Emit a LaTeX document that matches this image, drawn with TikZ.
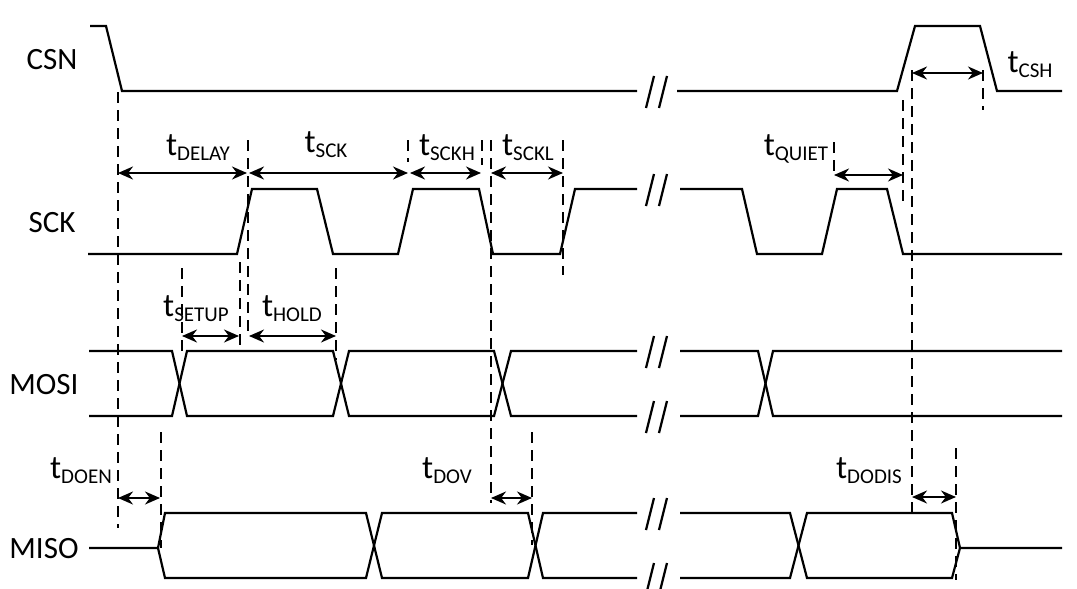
\documentclass[tikz,border=0pt]{standalone}
\usepackage{fontspec}
\setmainfont{Carlito}
\usetikzlibrary{arrows.meta}
\newcommand\brkmark[2]{\draw[sig] (#1-6,#2+17)--(#1+2,#2-15) (#1+7,#2+17)--(#1+15,#2-15);}
\begin{document}
\begin{tikzpicture}[x=1pt,y=-1pt,
  sig/.style={line width=2.2pt,line join=miter},
  dsh/.style={line width=2pt,dash pattern=on 11pt off 7pt},
  dim/.style={line width=2pt,{Stealth[length=15pt,width=13pt]}-{Stealth[length=15pt,width=13pt]}},
  lab/.style={font=\fontsize{31}{34}\selectfont,inner sep=0},
  tl/.style={font=\fontsize{33}{36}\selectfont,inner sep=0,anchor=base}]
\useasboundingbox (0,0) rectangle (1077,589);
% labels
\node[lab] (csn) at (52,60) {CSN};
\node[lab] (sck) at (52,223) {SCK};
\node[lab] (mosi) at (44,385) {MOSI};
\node[lab] (miso) at (44,549) {MISO};
% CSN
\draw[sig] (90,26)--(106,26)--(122,91)--(637,91);
\draw[sig] (677,91)--(897,91)--(915,26)--(980,26)--(997,91)--(1062,91);
\brkmark{652}{91}
% SCK
\draw[sig] (88,254)--(237,254)--(252,189)--(317,189)--(333,254)--(398,254)--(413,189)--(479,189)--(493,254)--(560,254)--(575,189)--(637,189);
\draw[sig] (680,189)--(742,189)--(757,254)--(822,254)--(837,189)--(887,189)--(903,254)--(1062,254);
\brkmark{652}{189}
% MOSI
\draw[sig] (89,351)--(172,351)--(187,416)--(333,416)--(349,351)--(494,351)--(511,416)--(637,416);
\draw[sig] (89,416)--(172,416)--(187,351)--(333,351)--(349,416)--(494,416)--(511,351)--(637,351);
\draw[sig] (680,351)--(758,351)--(773,416)--(1062,416);
\draw[sig] (680,416)--(758,416)--(773,351)--(1062,351);
\brkmark{652}{351}
\brkmark{652}{416}
% MISO
\draw[sig] (89,548)--(158,548)--(165,513)--(366,513)--(382,578)--(528,578)--(543,513)--(637,513);
\draw[sig] (158,548)--(165,578)--(366,578)--(382,513)--(528,513)--(543,578)--(637,578);
\draw[sig] (680,513)--(790,513)--(807,578)--(952,578)--(960,548)--(1062,548);
\draw[sig] (680,578)--(790,578)--(807,513)--(952,513)--(960,548);
\brkmark{652}{513}
\brkmark{652}{578}
% dashed guides
\draw[dsh] (118,92)--(118,528);
\draw[dsh] (248,140)--(248,338);
\draw[dsh] (240,262)--(240,345);
\draw[dsh] (182,268)--(182,355);
\draw[dsh] (336,268)--(336,360);
\draw[dsh] (408,140)--(408,162);
\draw[dsh] (482,140)--(482,165);
\draw[dsh] (491,140)--(491,503);
\draw[dsh] (563,140)--(563,275);
\draw[dsh] (161,432)--(161,548);
\draw[dsh] (532,432)--(532,545);
\draw[dsh] (834,142)--(834,175);
\draw[dsh] (903,100)--(903,205);
\draw[dsh] (912,70)--(912,512);
\draw[dsh] (983,70)--(983,110);
\draw[dsh] (956,448)--(956,580);
% dimension arrows
\coordinate (a1) at (118,173); \coordinate (a2) at (247,173);
\coordinate (a3) at (249,173); \coordinate (a4) at (408,173);
\coordinate (a5) at (410,173); \coordinate (a6) at (481,173);
\coordinate (a7) at (491,173); \coordinate (a8) at (563,173);
\draw[dim] (a1)--(a2); \draw[dim] (a3)--(a4); \draw[dim] (a5)--(a6); \draw[dim] (a7)--(a8);
\coordinate (q1) at (834,175); \coordinate (q2) at (903,175); \draw[dim] (q1)--(q2);
\coordinate (c1) at (912,73); \coordinate (c2) at (983,73); \draw[dim] (c1)--(c2);
\coordinate (s1) at (182,336); \coordinate (s2) at (239,336); \draw[dim] (s1)--(s2);
\coordinate (h1) at (249,336); \coordinate (h2) at (336,336); \draw[dim] (h1)--(h2);
\coordinate (e1) at (118,498); \coordinate (e2) at (160,498); \draw[dim] (e1)--(e2);
\coordinate (v1) at (491,498); \coordinate (v2) at (532,498); \draw[dim] (v1)--(v2);
\coordinate (d1) at (912,497); \coordinate (d2) at (956,497); \draw[dim] (d1)--(d2);
% timing labels
\newcommand\tsub[1]{t\fontsize{21}{22}\selectfont\raisebox{-5pt}{#1}}
\node[tl] (tdelay) at (198,155) {\tsub{DELAY}};
\node[tl] (tsck) at (326,152) {\tsub{SCK}};
\node[tl] (tsckh) at (447,155) {\tsub{SCKH}};
\node[tl] (tsckl) at (528,155) {\tsub{SCKL}};
\node[tl] (tquiet) at (796,155) {\tsub{QUIET}};
\node[tl] (tcsh) at (1030,72) {\tsub{CSH}};
\node[tl] (tsetup) at (196,316) {\tsub{SETUP}};
\node[tl] (thold) at (292,316) {\tsub{HOLD}};
\node[tl] (tdoen) at (81,478) {\tsub{DOEN}};
\node[tl] (tdov) at (447,478) {\tsub{DOV}};
\node[tl] (tdodis) at (869,478) {\tsub{DODIS}};
\end{tikzpicture}
\end{document}
